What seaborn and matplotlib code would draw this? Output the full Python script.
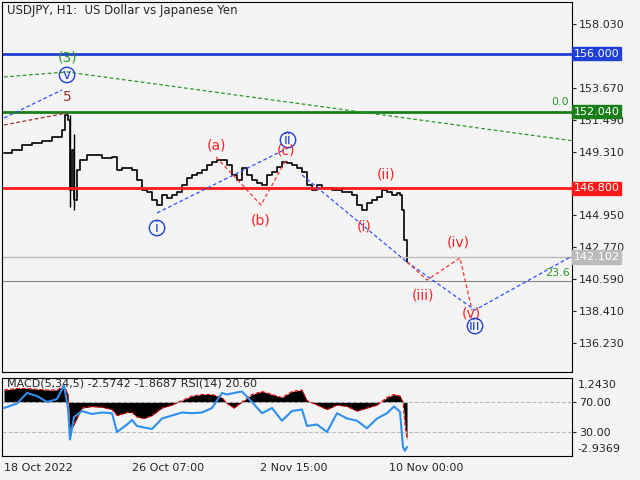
import matplotlib
matplotlib.use("Agg")
import matplotlib.pyplot as plt
import seaborn as sns
import pandas as pd
import numpy as np

sns.set_style("white")
plt.rcParams['font.family'] = ['DejaVu Sans']

# price path (bar position, price)
bar_x = [2,10,20,30,40,50,60,63,66,68,70,72,75,78,85,90,100,110,115,120,130,135,140,145,150,155,160,165,170,175,
         180,185,190,195,200,205,210,215,220,225,230,235,240,245,250,255,260,265,270,275,280,285,290,295,300,305,
         310,315,320,330,340,350,355,360,365,370,375,380,385,390,395,398,400,402,405]
price = [149.22,149.42,149.76,149.90,150.04,150.31,150.79,151.81,151.47,146.69,149.42,146.01,148.06,148.74,149.08,
         149.08,148.87,148.94,148.06,148.19,148.06,147.37,146.69,146.55,146.01,145.67,146.35,146.14,146.35,146.55,
         147.03,147.51,147.71,147.85,148.06,148.40,148.60,148.74,148.74,148.40,147.71,147.37,148.19,147.71,147.37,
         147.17,147.03,147.71,147.92,148.26,148.60,148.53,148.40,148.19,147.92,147.03,146.69,147.03,146.83,146.69,
         146.55,146.35,145.67,145.32,145.80,146.01,146.21,146.69,146.55,146.35,146.49,146.35,145.32,143.27,141.77]
rsi_x = [2,15,25,35,45,55,62,66,68,72,80,90,100,110,115,125,130,135,142,150,160,170,180,190,200,210,220,225,
         232,240,250,260,270,280,290,300,305,315,325,335,345,355,365,375,385,392,398,401,403,405]
rsi = [62,68,82,78,70,74,92,62,20,50,58,54,56,55,30,40,46,38,36,34,48,52,56,55,56,62,82,80,82,84,70,55,62,45,
       58,60,38,40,30,55,48,45,35,48,55,64,57,10,5,10]
macd_line = [86,88,88,87,86,86,92,80,30,40,62,64,63,60,52,56,56,50,48,52,62,66,72,78,80,80,76,68,
             62,70,80,84,80,76,84,86,72,66,60,66,64,58,62,66,76,80,78,70,40,20]

hlines = [(156.000, "#1f3fd6", 2), (152.040, "#1a7f1a", 2), (146.800, "#ff1a1a", 2)]
right_ticks = [158.030, 153.670, 151.490, 149.310, 144.950, 142.770, 140.590, 138.410, 136.230]
date_x = [2, 130, 258, 387]
date_labels = ["18 Oct 2022", "26 Oct 07:00", "2 Nov 15:00", "10 Nov 00:00"]

bg = "#f4f4f4"
fig = plt.figure(figsize=(6.4, 4.8), dpi=100, facecolor=bg)
ax = fig.add_axes([2/640, 1-372/480, 570/640, 370/480])
ax2 = fig.add_axes([2/640, 1-456/480, 570/640, 78/480])
for a in (ax, ax2):
    a.set_facecolor(bg)
    for s in a.spines.values():
        s.set_color("black"); s.set_linewidth(0.8)
    a.set_xlim(0, 570)
    a.yaxis.tick_right()
    a.tick_params(labelsize=8, length=3, pad=2)

ax.set_ylim(134.25, 159.53)
ax.set_xticks([])
ax.set_yticks(right_ticks)
ax.set_yticklabels([f"{t:.3f}" for t in right_ticks])

df = pd.DataFrame({"x": bar_x, "p": price})
sns.lineplot(data=df, x="x", y="p", ax=ax, color="black", lw=1.2, drawstyle="steps-post")
ax.vlines([68, 72], [145.5, 145.3], [151.8, 150.5], color="black", lw=1)

for val, c, lw in hlines:
    ax.axhline(val, color=c, lw=lw)
    ax.text(1.003, val, f"{val:.3f}", transform=ax.get_yaxis_transform(), color="white", fontsize=8,
            va="center", ha="left", bbox=dict(boxstyle="square,pad=0.15", fc=c, ec=c))
ax.axhline(142.102, color="#bbbbbb", lw=1)
ax.text(1.003, 142.102, "142.102", transform=ax.get_yaxis_transform(), color="white", fontsize=8,
        va="center", ha="left", bbox=dict(boxstyle="square,pad=0.15", fc="#bbbbbb", ec="#bbbbbb"))
ax.axhline(140.46, color="#888888", lw=0.8)

P = lambda y: 158.03 - (y - 24) * 0.06834
def seg(xs, ys, c, ls=(0, (3, 2))):
    ax.plot(xs, [P(y) for y in ys], color=c, lw=0.9, linestyle=ls)
seg([2, 65, 572], [77, 72, 141], "#2a9a2a")
seg([2, 60], [118, 90], "#3050ff")
seg([2, 65], [125, 113], "#a03030")
seg([155, 286], [213, 148], "#3050ff")
seg([300, 405], [175, 262], "#3050ff")
seg([405, 473, 572], [262, 310, 255], "#3050ff")
seg([214, 259, 284], [157, 205, 160], "#ff3030")
seg([405, 425, 458, 470], [262, 280, 258, 310], "#ff3030")

def lab(x, y, s, c, circle=False):
    kw = dict(boxstyle="circle,pad=0.05", fc="none", ec="#1f3fd6") if circle else None
    ax.text(x, P(y), s, color=c, fontsize=10, ha="center", va="center", bbox=kw)
lab(66, 58, "(3)", "#2a9a2a"); lab(65, 75, "v", "#1f3fd6", True); lab(65, 97, "5", "#a03030")
lab(214, 146, "(a)", "#ff2020"); lab(286, 140, "ii", "#1f3fd6", True); lab(284, 151, "(c)", "#ff2020")
lab(259, 221, "(b)", "#ff2020"); lab(155, 228, "i", "#1f3fd6", True); lab(384, 175, "(ii)", "#ff2020")
lab(362, 226, "(i)", "#ff2020"); lab(456, 242, "(iv)", "#ff2020"); lab(421, 295, "(iii)", "#ff2020")
lab(469, 313, "(v)", "#ff2020"); lab(473, 326, "iii", "#1f3fd6", True)
ax.text(558, P(102), "0.0", color="#2a9a2a", fontsize=8, ha="center", va="center")
ax.text(556, P(273), "23.6", color="#2a9a2a", fontsize=8, ha="center", va="center")
ax.text(5, P(11), "USDJPY, H1:  US Dollar vs Japanese Yen", fontsize=8.5, va="center")

# indicator panel
ax2.set_ylim(-2, 102)
ax2.set_yticks([70, 30]); ax2.set_yticklabels(["70.00", "30.00"])
for v in (70, 30):
    ax2.axhline(v, color="#bbbbbb", lw=0.8, ls="--")
ax2.text(1.01, 93, "1.2430", transform=ax2.get_yaxis_transform(), fontsize=8, va="center")
ax2.text(1.01, 7, "-2.9369", transform=ax2.get_yaxis_transform(), fontsize=8, va="center")
ax2.fill_between(rsi_x, 70, macd_line, color="black", lw=0)
ax2.plot(rsi_x, macd_line, color="red", lw=0.8, ls="--")
sns.lineplot(x=rsi_x, y=rsi, ax=ax2, color="#2f8fef", lw=1.5)
ax2.set_xticks(date_x)
ax2.set_xticklabels(date_labels, ha="left")
ax2.set_xlabel(""); ax2.set_ylabel("")
ax2.text(5, 94, "MACD(5,34,5) -2.5742 -1.8687 RSI(14) 20.60", fontsize=8, va="center")

fig.savefig("out.png", dpi=100, facecolor=bg)
